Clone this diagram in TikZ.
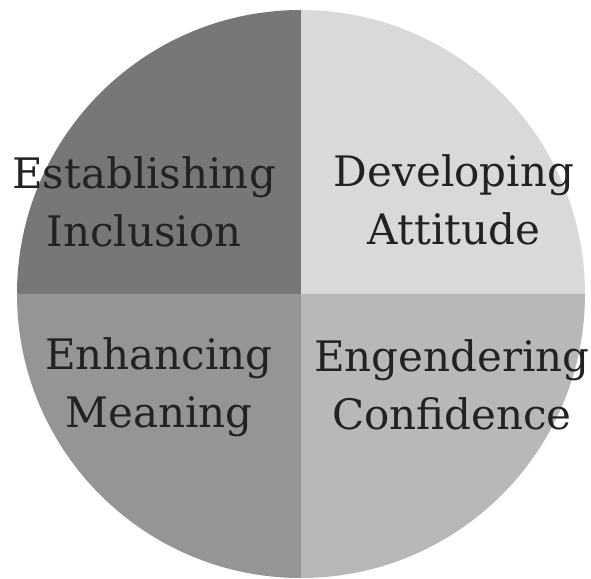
\documentclass[tikz,border=0pt]{standalone}
\usepackage{fontspec}
\setmainfont{DejaVu Serif}
\usepackage{tikz}

\definecolor{darkq}{HTML}{777777}
\definecolor{lightq}{HTML}{D9D9D9}
\definecolor{midq}{HTML}{959595}
\definecolor{paleq}{HTML}{B8B8B8}
\definecolor{ink}{HTML}{222222}

\tikzset{
  label/.style={align=center, text=ink, anchor=base,
    font=\fontsize{42}{58}\selectfont}
}

\begin{document}
\begin{tikzpicture}[x=1pt, y=1pt]
   \useasboundingbox (0,0) rectangle (591,578);
   \coordinate (c) at (301,284);

   % four quarters of the disc
   \fill[darkq]  (c) -- ++(-284,0) arc (180:90:284) -- cycle;
   \fill[lightq] (c) -- ++(0,284) arc (90:0:284) -- cycle;
   \fill[midq]   (c) -- ++(-284,0) arc (180:270:284) -- cycle;
   \fill[paleq]  (c) -- ++(0,-284) arc (270:360:284) -- cycle;

   % labels, anchored on the baseline of their second line
   \node[label] (incl) at (144,331) {Establishing\\Inclusion};
   \node[label] (att)  at (454,333) {Developing\\Attitude};
   \node[label] (mean) at (159,150) {Enhancing\\Meaning};
   \node[label] (conf) at (452,148) {Engendering\\Confidence};
\end{tikzpicture}
\end{document}
